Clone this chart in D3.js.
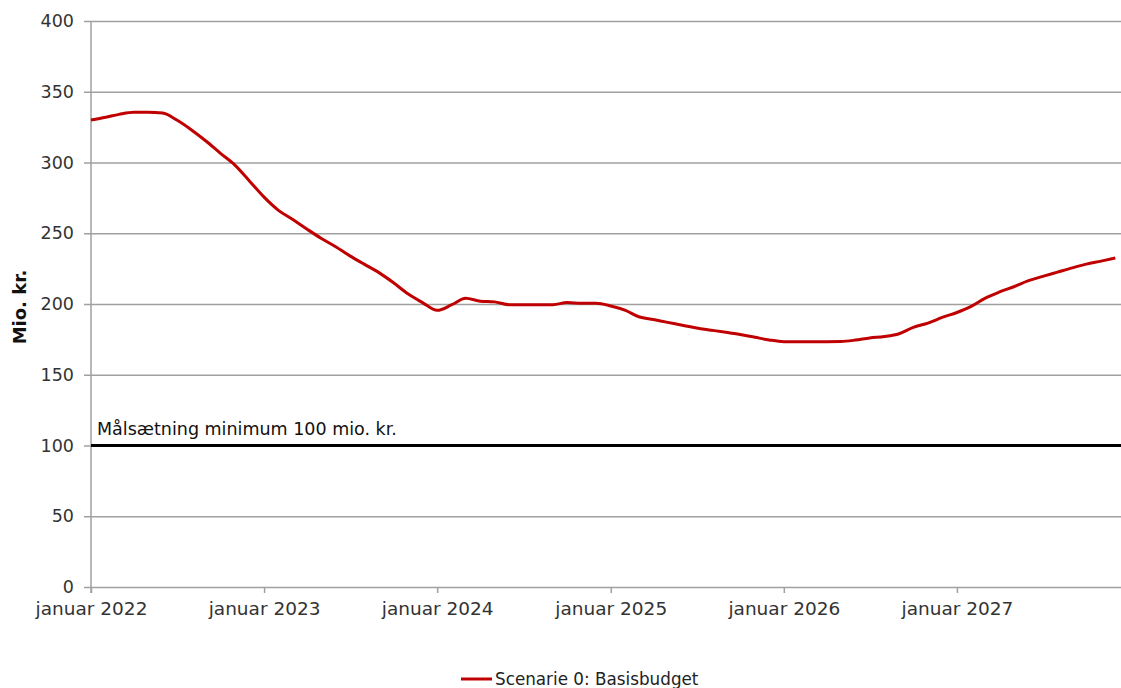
<!DOCTYPE html>
<html>
<head>
<meta charset="utf-8">
<script src="https://cdn.jsdelivr.net/npm/d3@7"></script>
<style>
  body { margin: 0; background: #fff; }
  svg { display: block; font-family: "DejaVu Sans", Verdana, sans-serif; }
</style>
</head>
<body>
<div id="chart"></div>
<script>
// monthly values, mio. kr., januar 2022 - december 2027
const startMonth = '2022-01';
const values = [
  330, 332, 334, 335.5, 335.5, 335, 330, 323, 315, 306.5, 298, 287,
  275.5, 266, 260, 253, 246.5, 240.5, 234, 228, 222, 215, 207, 201,
  195.5, 199.5, 204, 202, 201.5, 199.5, 199.5, 199.5, 199.5, 201, 200.5, 200.5,
  198.6, 195.5, 191, 189, 187, 185, 183, 181.5, 180, 178.5, 176.5, 174.6,
  173.4, 173.4, 173.4, 173.4, 173.5, 174.5, 176, 177, 179, 183.5, 186.5, 190.5,
  194, 198.5, 204, 208.5, 212.2, 216.5, 219.5, 222.5, 225.5, 228.2, 230.3, 232.5
];
const yTicks = [0, 50, 100, 150, 200, 250, 300, 350, 400];
const xTickYears = [2022, 2023, 2024, 2025, 2026, 2027];
const targetValue = 100;
const targetLabel = 'Målsætning minimum 100 mio. kr.';
const yLabel = 'Mio. kr.';
const seriesName = 'Scenarie 0: Basisbudget';

const W = 1121, H = 688;
const margin = { left: 91, right: 0, top: 21, bottom: 101 };
const width = W - margin.left - margin.right;
const height = H - margin.top - margin.bottom;

const parseMonth = d3.timeParse('%Y-%m');
const t0 = parseMonth(startMonth);
const data = values.map((v, i) => ({ date: d3.timeMonth.offset(t0, i), value: v }));

const svg = d3.select('#chart').append('svg')
  .attr('width', W)
  .attr('height', H);

const g = svg.append('g')
  .attr('transform', 'translate(' + margin.left + ',' + margin.top + ')');

const x = d3.scaleTime()
  .domain([t0, new Date(2027, 11, 13)])
  .range([0, width]);
const y = d3.scaleLinear()
  .domain([0, 400])
  .range([height, 0]);

// y axis + gridlines
g.append('g')
  .attr('class', 'axis-y')
  .call(d3.axisLeft(y).tickValues(yTicks).tickSizeOuter(0).tickPadding(11))
  .call(a => a.select('.domain').remove())
  .call(a => a.selectAll('.tick line')
    .attr('x1', -7)
    .attr('x2', width)
    .attr('stroke', '#a0a0a0')
    .attr('stroke-width', 1.5))
  .call(a => a.selectAll('.tick text')
    .attr('fill', '#333')
    .attr('font-size', 17.5)
    .attr('font-family', '"DejaVu Sans", Verdana, sans-serif'));

// x axis
g.append('g')
  .attr('class', 'axis-x')
  .attr('transform', 'translate(0,' + height + ')')
  .call(d3.axisBottom(x)
    .tickValues(xTickYears.map(yr => new Date(yr, 0, 1)))
    .tickFormat(d => 'januar ' + d.getFullYear())
    .tickSize(6)
    .tickSizeOuter(0)
    .tickPadding(9))
  .call(a => a.select('.domain').remove())
  .call(a => a.selectAll('.tick line').attr('stroke', '#a0a0a0').attr('stroke-width', 1.5))
  .call(a => a.selectAll('.tick text')
    .attr('fill', '#333')
    .attr('font-size', 18.5)
    .attr('font-family', '"DejaVu Sans", Verdana, sans-serif'));

// vertical axis line
g.append('line')
  .attr('x1', 0).attr('x2', 0)
  .attr('y1', 0).attr('y2', height + 6)
  .attr('stroke', '#a0a0a0')
  .attr('stroke-width', 1.5);

// target line
g.append('line')
  .attr('x1', 0).attr('x2', width)
  .attr('y1', y(targetValue)).attr('y2', y(targetValue))
  .attr('stroke', '#000')
  .attr('stroke-width', 3);

g.append('text')
  .attr('x', 6)
  .attr('y', y(targetValue) - 11)
  .attr('font-size', 17.5)
  .attr('fill', '#111')
  .text(targetLabel);

// series
const line = d3.line()
  .x(d => x(d.date))
  .y(d => y(d.value))
  .curve(d3.curveMonotoneX);

g.append('path')
  .datum(data)
  .attr('fill', 'none')
  .attr('stroke', '#c00000')
  .attr('stroke-width', 3)
  .attr('stroke-linejoin', 'round')
  .attr('d', line);

// y label
svg.append('text')
  .attr('transform', 'translate(26,' + (margin.top + y(200) + 3) + ') rotate(-90)')
  .attr('text-anchor', 'middle')
  .attr('font-size', 18)
  .attr('font-weight', 'bold')
  .attr('fill', '#111')
  .text(yLabel);

// legend
const lg = svg.append('g').attr('transform', 'translate(461,679)');
lg.append('line')
  .attr('x1', 0).attr('x2', 31)
  .attr('stroke', '#c00000')
  .attr('stroke-width', 3);
lg.append('text')
  .attr('x', 34)
  .attr('y', 6)
  .attr('font-size', 16.8)
  .attr('fill', '#222')
  .text(seriesName);
</script>
</body>
</html>
